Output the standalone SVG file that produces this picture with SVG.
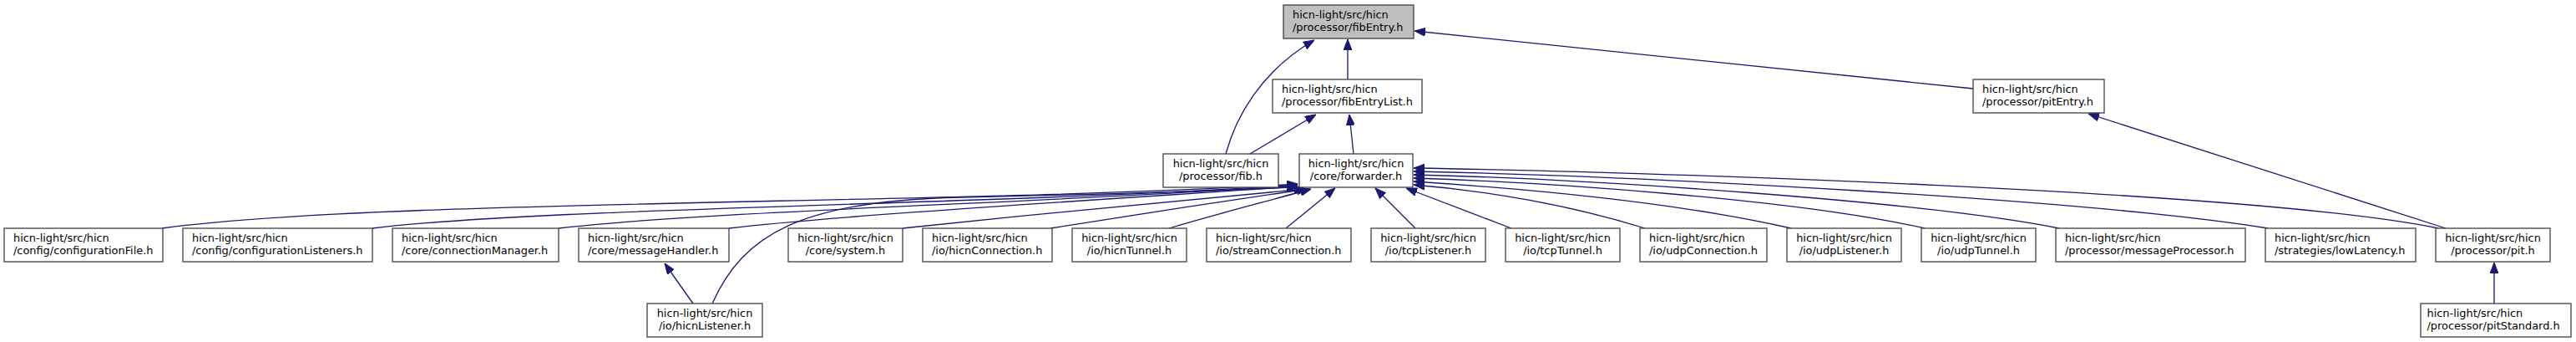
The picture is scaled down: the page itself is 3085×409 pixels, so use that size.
<svg xmlns="http://www.w3.org/2000/svg" width="3085" height="409" viewBox="0 0 3085 409">
<style>
.n rect{fill:#ffffff;stroke:#404040;stroke-width:1.3}
.n.root rect{fill:#bfbfbf}
.n text{font-family:"DejaVu Sans","Liberation Sans",sans-serif;font-size:12.9px;fill:#000}
.c{text-anchor:middle}
.e path{fill:none;stroke:#191970;stroke-width:1.3;marker-end:url(#ah)}
</style>
<defs>
<marker id="ah" markerWidth="13" markerHeight="10" refX="13" refY="5" orient="auto" markerUnits="userSpaceOnUse">
<path d="M0,0 L13,5 L0,10 z" fill="#191970" stroke="#191970" stroke-width="1"/>
</marker>
</defs>
<rect width="3085" height="409" fill="#ffffff"/>
<g id="edges" class="e">
<path d="M1614,95 L1614,47"/>
<path d="M1468,184 C1480,140 1510,85 1574,48"/>
<path d="M1497,184 L1576,137"/>
<path d="M1621,184 L1616,137"/>
<path d="M2363,106 L1694,37"/>
<path d="M2929,273 L2501,136"/>
<path d="M2987,363 L2987,314"/>
<path d="M830,363 L796,315"/>
<path d="M194,273 C450,238 1150,245 1554,220"/>
<path d="M446,273 C650,248 1200,245 1554,221"/>
<path d="M669,273 C850,252 1250,243 1554,222"/>
<path d="M873,273 C1000,258 1300,240 1554,223"/>
<path d="M853,363 C890,280 960,240 1150,236 C1350,232 1450,228 1554,224"/>
<path d="M1081,273 C1250,255 1450,236 1563,226"/>
<path d="M1258,273 C1350,258 1470,240 1566,226"/>
<path d="M1400,273 C1450,258 1520,240 1570,226"/>
<path d="M1540,273 L1599,225"/>
<path d="M1695,273 L1647,225"/>
<path d="M1810,273 L1684,225"/>
<path d="M1970,273 C1880,245 1780,228 1693,221"/>
<path d="M2145,273 C2000,240 1800,224 1693,217"/>
<path d="M2305,273 C2150,238 1850,218 1693,213"/>
<path d="M2466,273 C2300,240 1900,214 1693,209"/>
<path d="M2716,273 C2500,238 1950,210 1693,205"/>
<path d="M2920,273 C2700,228 1950,205 1693,201"/>
</g>
<g id="n_fibEntry" class="n root"><rect x="1537" y="6" width="156" height="40"/><text x="1548" y="22">hicn-light/src/hicn</text><text x="1548" y="37">/processor/fibEntry.h</text></g>
<g id="n_fibEntryList" class="n"><rect x="1524" y="95" width="179" height="40"/><text x="1535" y="111">hicn-light/src/hicn</text><text x="1535" y="126">/processor/fibEntryList.h</text></g>
<g id="n_pitEntry" class="n"><rect x="2363" y="95" width="157" height="40"/><text x="2374" y="111">hicn-light/src/hicn</text><text x="2374" y="126">/processor/pitEntry.h</text></g>
<g id="n_fib" class="n"><rect x="1393" y="184" width="138" height="40"/><text class="c" x="1462" y="200">hicn-light/src/hicn</text><text class="c" x="1462" y="215">/processor/fib.h</text></g>
<g id="n_forwarder" class="n"><rect x="1556" y="184" width="136" height="40"/><text class="c" x="1624" y="200">hicn-light/src/hicn</text><text class="c" x="1624" y="215">/core/forwarder.h</text></g>
<g id="n_configurationFile" class="n"><rect x="5" y="273" width="190" height="40"/><text x="16" y="289">hicn-light/src/hicn</text><text x="16" y="304">/config/configurationFile.h</text></g>
<g id="n_configurationListeners" class="n"><rect x="219" y="273" width="227" height="40"/><text x="230" y="289">hicn-light/src/hicn</text><text x="230" y="304">/config/configurationListeners.h</text></g>
<g id="n_connectionManager" class="n"><rect x="470" y="273" width="199" height="40"/><text x="481" y="289">hicn-light/src/hicn</text><text x="481" y="304">/core/connectionManager.h</text></g>
<g id="n_messageHandler" class="n"><rect x="693" y="273" width="180" height="40"/><text x="704" y="289">hicn-light/src/hicn</text><text x="704" y="304">/core/messageHandler.h</text></g>
<g id="n_system" class="n"><rect x="944" y="273" width="137" height="40"/><text class="c" x="1012.5" y="289">hicn-light/src/hicn</text><text class="c" x="1012.5" y="304">/core/system.h</text></g>
<g id="n_hicnConnection" class="n"><rect x="1105" y="273" width="155" height="40"/><text x="1116" y="289">hicn-light/src/hicn</text><text x="1116" y="304">/io/hicnConnection.h</text></g>
<g id="n_hicnTunnel" class="n"><rect x="1284" y="273" width="137" height="40"/><text class="c" x="1352.5" y="289">hicn-light/src/hicn</text><text class="c" x="1352.5" y="304">/io/hicnTunnel.h</text></g>
<g id="n_streamConnection" class="n"><rect x="1445" y="273" width="173" height="40"/><text x="1456" y="289">hicn-light/src/hicn</text><text x="1456" y="304">/io/streamConnection.h</text></g>
<g id="n_tcpListener" class="n"><rect x="1642" y="273" width="137" height="40"/><text class="c" x="1710.5" y="289">hicn-light/src/hicn</text><text class="c" x="1710.5" y="304">/io/tcpListener.h</text></g>
<g id="n_tcpTunnel" class="n"><rect x="1803" y="273" width="137" height="40"/><text class="c" x="1871.5" y="289">hicn-light/src/hicn</text><text class="c" x="1871.5" y="304">/io/tcpTunnel.h</text></g>
<g id="n_udpConnection" class="n"><rect x="1964" y="273" width="152" height="40"/><text x="1975" y="289">hicn-light/src/hicn</text><text x="1975" y="304">/io/udpConnection.h</text></g>
<g id="n_udpListener" class="n"><rect x="2140" y="273" width="137" height="40"/><text class="c" x="2208.5" y="289">hicn-light/src/hicn</text><text class="c" x="2208.5" y="304">/io/udpListener.h</text></g>
<g id="n_udpTunnel" class="n"><rect x="2301" y="273" width="137" height="40"/><text class="c" x="2369.5" y="289">hicn-light/src/hicn</text><text class="c" x="2369.5" y="304">/io/udpTunnel.h</text></g>
<g id="n_messageProcessor" class="n"><rect x="2462" y="273" width="227" height="40"/><text x="2473" y="289">hicn-light/src/hicn</text><text x="2473" y="304">/processor/messageProcessor.h</text></g>
<g id="n_lowLatency" class="n"><rect x="2713" y="273" width="180" height="40"/><text x="2724" y="289">hicn-light/src/hicn</text><text x="2724" y="304">/strategies/lowLatency.h</text></g>
<g id="n_pit" class="n"><rect x="2917" y="273" width="137" height="40"/><text class="c" x="2985.5" y="289">hicn-light/src/hicn</text><text class="c" x="2985.5" y="304">/processor/pit.h</text></g>
<g id="n_hicnListener" class="n"><rect x="775" y="363" width="138" height="40"/><text class="c" x="844" y="379">hicn-light/src/hicn</text><text class="c" x="844" y="394">/io/hicnListener.h</text></g>
<g id="n_pitStandard" class="n"><rect x="2899" y="363" width="180" height="40"/><text x="2906.5" y="379">hicn-light/src/hicn</text><text x="2906.5" y="394">/processor/pitStandard.h</text></g>
</svg>
